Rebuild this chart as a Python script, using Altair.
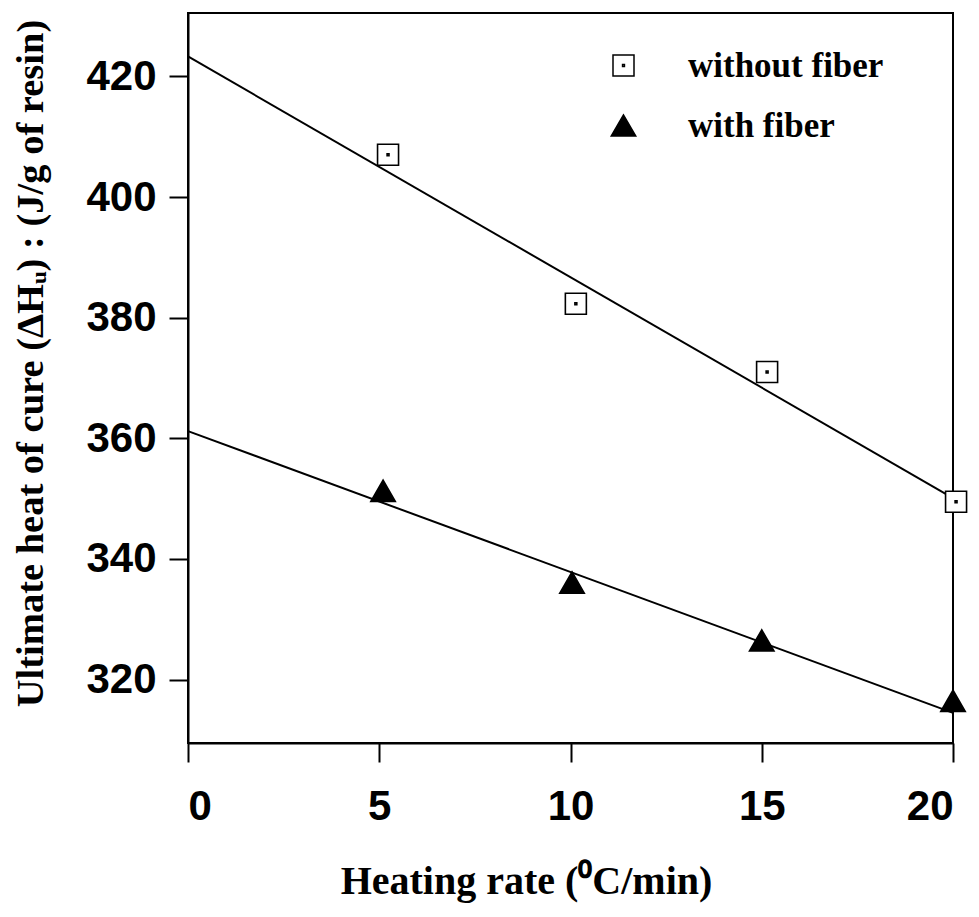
import altair as alt
import pandas as pd

# ---- data ----
series_names = ["without fiber", "with fiber"]

rate_without = [5.23, 10.14, 15.14, 20.08]
heat_without = [407.0, 382.3, 371.0, 349.5]

rate_with = [5.10, 10.04, 15.00, 20.00]
heat_with = [351.3, 336.1, 326.5, 316.5]

fit_rate = [0, 20]
fit_without = [423.3, 350.1]
fit_with = [361.2, 314.5]

x_ticks = [0, 5, 10, 15, 20]
y_ticks = [320, 340, 360, 380, 400, 420]

# ---- tables ----
points = pd.DataFrame({
    "rate": rate_without + rate_with,
    "heat": heat_without + heat_with,
    "series": [series_names[0]] * len(rate_without) + [series_names[1]] * len(rate_with),
})
lines = pd.DataFrame({
    "rate": fit_rate + fit_rate,
    "heat": fit_without + fit_with,
    "series": [series_names[0]] * 2 + [series_names[1]] * 2,
})

square_dot = "M-1,-1L1,-1L1,1L-1,1Z M-0.09,-0.09L0.09,-0.09L0.09,0.09L-0.09,0.09Z"

x_enc = alt.X("rate:Q",
              scale=alt.Scale(domain=[0, 20], nice=False, zero=False),
              axis=alt.Axis(values=x_ticks, format="d",
                            title="Heating rate (⁰C/min)",
                            titleFontSize=40, titleX=338, titleY=150,
                            titleAlign="center", titleBaseline="alphabetic",
                            titleAngle=0, labelPadding=24))
y_enc = alt.Y("heat:Q",
              scale=alt.Scale(domain=[309.5, 430.5], nice=False, zero=False),
              axis=alt.Axis(values=y_ticks, format="d",
                            title="Ultimate heat of cure (ΔHᵤ) : (J/g of resin)",
                            titleFontSize=38.5, titleX=-158, titleY=350,
                            titleAlign="center", titleBaseline="middle",
                            titleAngle=270, labelPadding=13))

legend = alt.Legend(orient="none", legendX=418, legendY=35, title=None,
                    labelFont="Liberation Serif", labelFontWeight="bold",
                    labelFontSize=35, labelColor="black", labelOffset=47,
                    labelLimit=0,
                    rowPadding=24, padding=0,
                    symbolStrokeColor="black", symbolStrokeWidth=1.5,
                    symbolOpacity=1)

line_layer = alt.Chart(lines).mark_line(color="black", strokeWidth=2).encode(
    x=x_enc, y=y_enc, detail="series:N"
)

point_layer = alt.Chart(points).mark_point(
    filled=True, strokeWidth=1.6, opacity=1
).encode(
    x=x_enc, y=y_enc,
    shape=alt.Shape("series:N", scale=alt.Scale(domain=series_names,
                                                range=[square_dot, "triangle-up"]),
                    legend=legend),
    fill=alt.Fill("series:N", scale=alt.Scale(domain=series_names,
                                              range=["white", "black"]),
                  legend=legend),
    stroke=alt.Stroke("series:N", scale=alt.Scale(domain=series_names,
                                                  range=["black", "black"]),
                      legend=legend),
    size=alt.Size("series:N", scale=alt.Scale(domain=series_names,
                                              range=[441, 600]),
                  legend=legend),
)

chart = alt.layer(line_layer, point_layer).properties(
    width=765, height=730,
    autosize=alt.AutoSizeParams(type="none"),
    padding={"left": 180, "top": 5, "right": 18, "bottom": 160},
).configure_view(
    stroke="black", strokeWidth=2
).configure_axis(
    grid=False,
    domainColor="black", domainWidth=2,
    tickColor="black", tickWidth=2, tickSize=19,
    labelFont="Liberation Sans", labelFontWeight="bold", labelFontSize=42,
    labelColor="black",
    titleFont="Liberation Serif", titleFontWeight="bold", titleColor="black",
)

chart.save("out.html", embed_options={"renderer": "svg", "actions": False})
